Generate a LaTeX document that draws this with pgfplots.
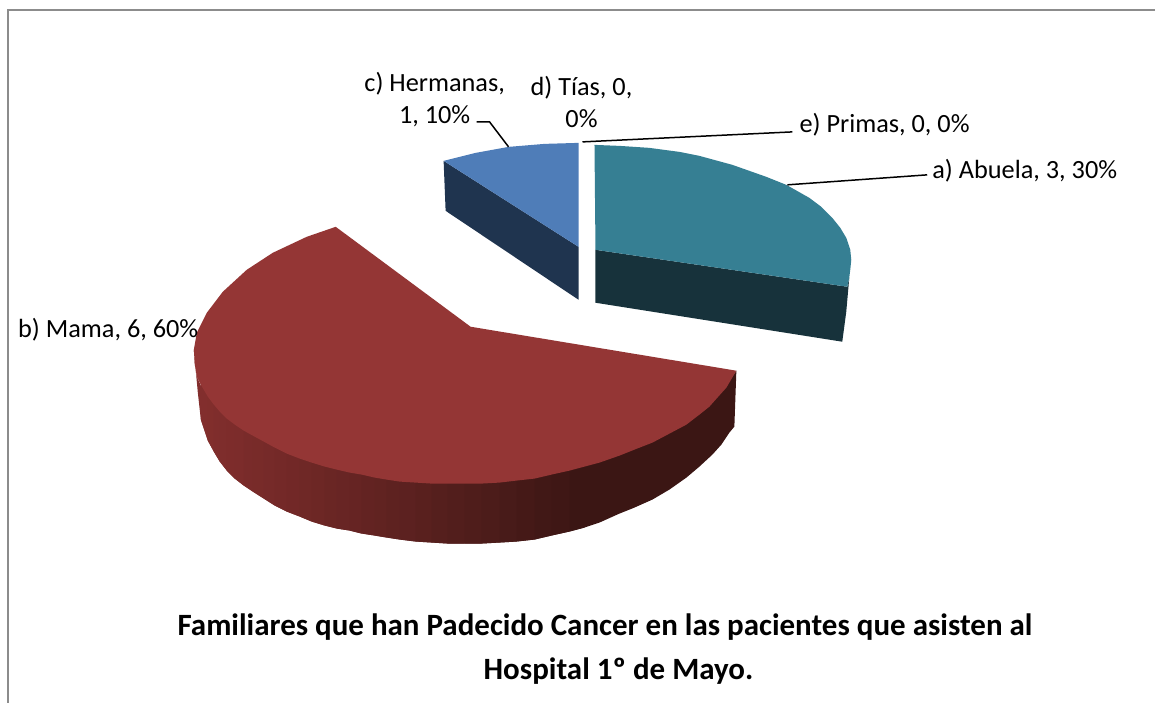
\documentclass[border=0pt]{standalone}
\usepackage{pgfplots}
\pgfplotsset{compat=1.18}
\usepackage{fontspec}
\setmainfont{Carlito}
\definecolor{teal}{HTML}{367F93}
\definecolor{tealside}{HTML}{17323B}
\definecolor{blue1}{HTML}{4F7DB8}
\definecolor{blueside}{HTML}{1F344F}
\definecolor{red1}{HTML}{943635}
\definecolor{redlit}{HTML}{822E2D}
\definecolor{reddark}{HTML}{3B1614}
% one strip of the shaded rim of the red slice, each overlaps the next one
\newcommand{\strip}[2]{\addplot[fill=redlit!#1!reddark, draw=none] coordinates {#2} -- cycle;}
\newcommand{\lab}{\fontsize{26.3}{26.3}\selectfont}
\begin{document}
\begin{tikzpicture}[x=1pt,y=1pt]
\begin{axis}[
    hide axis,
    scale only axis,
    width=1156pt,
    height=704pt,
    xmin=0, xmax=1156,
    ymin=0, ymax=704,
    y dir=reverse,
    clip=false,
    no markers
]
\path (axis cs:0,0) rectangle (axis cs:1156,704);

% frame, only top and left are visible
\addplot[color=black!45, line width=2pt] coordinates {(1156,10) (8,10) (8,704)};

% red slice, rim
\strip{100}{(194,350) (195,365) (197,377) (202,388) (208,394) (208,441) (201,420) (198,393)}
\strip{100}{(201,382) (208,394) (214,402) (214,452) (208,441) (201,420)}
\strip{98}{(208,394) (214,402) (220,409) (220,462) (214,452) (208,441)}
\strip{96}{(214,402) (220,409) (227,416) (227,471) (220,462) (214,452)}
\strip{95}{(220,409) (227,416) (235,422) (235,479) (227,471) (220,462)}
\strip{93}{(227,416) (235,422) (244,428) (244,486) (235,479) (227,471)}
\strip{91}{(235,422) (244,428) (253,433) (253,492) (244,486) (235,479)}
\strip{88}{(244,428) (253,433) (264,439) (264,499) (253,492) (244,486)}
\strip{86}{(253,433) (264,439) (275,445) (275,506) (264,499) (253,492)}
\strip{83}{(264,439) (275,445) (287,451) (287,512) (275,506) (264,499)}
\strip{80}{(275,445) (287,451) (300,456) (300,517) (287,512) (275,506)}
\strip{77}{(287,451) (300,456) (312,460) (312,522) (300,517) (287,512)}
\strip{73}{(300,456) (312,460) (325,464) (325,526) (312,522) (300,517)}
\strip{70}{(312,460) (325,464) (337,467) (337,529) (325,526) (312,522)}
\strip{66}{(325,464) (337,467) (350,470) (350,531) (337,529) (325,526)}
\strip{63}{(337,467) (350,470) (362,472) (362,534) (350,531) (337,529)}
\strip{60}{(350,470) (362,472) (375,475) (375,536) (362,534) (350,531)}
\strip{56}{(362,472) (375,475) (387,477) (387,538) (375,536) (362,534)}
\strip{53}{(375,475) (387,477) (400,479) (400,540) (387,538) (375,536)}
\strip{50}{(387,477) (400,479) (416,480) (416,542) (400,540) (387,538)}
\strip{46}{(400,479) (416,480) (432,481) (432,543) (416,542) (400,540)}
\strip{42}{(416,480) (432,481) (448,481) (448,544) (432,543) (416,542)}
\strip{37}{(432,481) (448,481) (465,481) (465,544) (448,544) (432,543)}
\strip{33}{(448,481) (465,481) (482,481) (482,544) (465,544) (448,544)}
\strip{28}{(465,481) (482,481) (500,480) (500,543) (482,544) (465,544)}
\strip{24}{(482,481) (500,480) (517,478) (517,542) (500,543) (482,544)}
\strip{19}{(500,480) (517,478) (535,476) (535,540) (517,542) (500,543)}
\strip{14}{(517,478) (535,476) (552,472) (552,536) (535,540) (517,542)}
\strip{9}{(535,476) (552,472) (570,468) (570,532) (552,536) (535,540)}
\strip{5}{(552,472) (570,468) (585,464) (585,528) (570,532) (552,536)}
\strip{0}{(570,468) (600,460) (635,447) (670,431) (700,412) (718,395) (727,385) (737,371)
    (735,427) (730,433) (722,445) (713,455) (700,467) (687,478) (670,490) (653,500)
    (635,508) (620,514) (600,523) (585,528) (570,532)}

% red slice, top
\addplot[fill=red1, draw=none] coordinates {
    (471,327) (336,227) (307,237) (273,253) (247,270) (223,292) (207,313) (197,333)
    (194,350) (195,365) (197,377) (201,385) (208,397) (214,405) (220,412) (227,419)
    (235,425) (244,431) (253,436) (264,442) (275,448) (287,454) (300,459) (312,463)
    (325,467) (337,470) (350,473) (362,475) (375,478) (387,480) (400,482) (416,483)
    (432,484) (448,484) (465,484) (482,484) (500,483) (517,481) (535,479) (552,475)
    (570,471) (585,467) (600,463) (620,456) (635,450) (653,443) (670,434) (687,425)
    (700,415) (710,407) (718,398) (727,388) (737,371)
} -- cycle;

% blue slice
\addplot[fill=blueside, draw=none] coordinates {(444,161) (446,211) (579,300) (579,247)} -- cycle;
\addplot[fill=blue1, draw=none] coordinates {(579,143) (545,144) (509,147) (476,153) (444,161) (579,247)} -- cycle;

% teal slice
\addplot[fill=tealside, draw=none] coordinates {(596,250) (848,287) (850,278) (847,312) (843,342) (596,303)} -- cycle;
\addplot[fill=teal, draw=none] coordinates {
    (595,145) (620,146) (650,148) (680,152) (700,156) (733,165) (767,177) (787,185)
    (810,198) (822,207) (833,218) (841,228) (847,238) (851,250) (852,260) (851,270) (850,278) (848,287) (596,250)
} -- cycle;

% leader lines
\addplot[color=black, line width=1.5pt] coordinates {(477,122) (490,122) (509,147)};
\addplot[color=black, line width=1.5pt] coordinates {(583,142) (793,132)};
\addplot[color=black, line width=1.5pt] coordinates {(788,185) (928,175)};

% labels
\node[anchor=base, font=\lab] at (axis cs:435,91.5) {c) Hermanas,};
\node[anchor=base, font=\lab] at (axis cs:435,123.5) {1, 10\%};
\node[anchor=base, font=\lab] at (axis cs:582,96) {d) Tías, 0,};
\node[anchor=base, font=\lab] at (axis cs:582,128) {0\%};
\node[anchor=base west, inner sep=0pt, font=\lab] at (axis cs:800,133) {e) Primas, 0, 0\%};
\node[anchor=base west, inner sep=0pt, font=\lab] at (axis cs:933,178.5) {a) Abuela, 3, 30\%};
\node[anchor=base west, inner sep=0pt, font=\lab] at (axis cs:18,338) {b) Mama, 6, 60\%};

% title
\node[anchor=base, font=\fontsize{31}{31}\selectfont\bfseries] at (axis cs:605.5,636) {Familiares que han Padecido Cancer en las pacientes que asisten al};
\node[anchor=base, font=\fontsize{31}{31}\selectfont\bfseries] at (axis cs:619,680) {Hospital 1º de Mayo.};
\end{axis}
\end{tikzpicture}
\end{document}
